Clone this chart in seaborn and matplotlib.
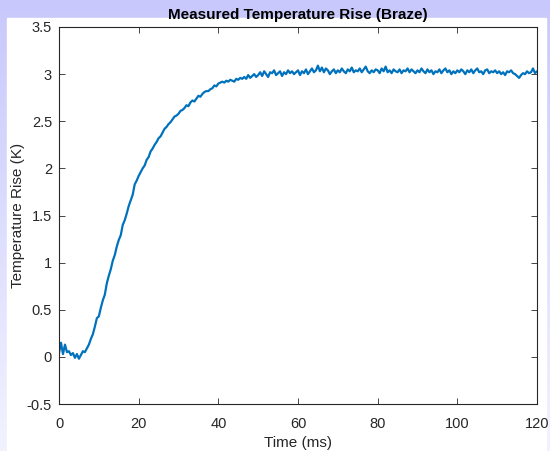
import numpy as np
import pandas as pd
import matplotlib
matplotlib.use("Agg")
import matplotlib.pyplot as plt
import seaborn as sns
from matplotlib.patches import Rectangle

time_ms = [i * 0.5 for i in range(241)]
temp_rise = [
    0.04, 0.15, 0.03, 0.13, 0.05, 0.06, 0.02, 0.04, -0.01, 0.03,
    -0.02, 0.02, 0.06, 0.05, 0.09, 0.13, 0.19, 0.24, 0.32, 0.41,
    0.43, 0.52, 0.60, 0.66, 0.78, 0.86, 0.93, 1.02, 1.08, 1.17,
    1.24, 1.29, 1.40, 1.45, 1.52, 1.60, 1.66, 1.72, 1.83, 1.87,
    1.92, 1.96, 2.00, 2.03, 2.09, 2.12, 2.18, 2.21, 2.25, 2.28,
    2.32, 2.34, 2.38, 2.42, 2.44, 2.47, 2.49, 2.52, 2.55, 2.56,
    2.58, 2.61, 2.62, 2.64, 2.67, 2.66, 2.70, 2.72, 2.71, 2.74,
    2.77, 2.76, 2.79, 2.81, 2.82, 2.82, 2.84, 2.85, 2.88, 2.87,
    2.90, 2.91, 2.92, 2.91, 2.93, 2.92, 2.94, 2.93, 2.92, 2.95,
    2.94, 2.96, 2.95, 2.97, 2.95, 2.99, 2.96, 2.98, 3.00, 2.97,
    2.99, 3.02, 2.98, 3.03, 3.00, 2.97, 3.02, 3.01, 3.04, 2.99,
    3.01, 3.03, 2.98, 3.02, 3.00, 3.04, 3.01, 3.03, 3.00, 3.02,
    3.04, 2.99, 3.03, 3.01, 3.05, 3.00, 3.03, 3.06, 3.02, 3.04,
    3.09, 3.03, 3.07, 3.02, 3.06, 3.04, 3.00, 3.03, 3.05, 3.01,
    3.04, 3.02, 3.06, 3.03, 3.01, 3.05, 3.03, 3.07, 3.02, 3.04,
    3.03, 3.06, 3.02, 3.05, 3.08, 3.03, 3.01, 3.04, 3.02, 3.05,
    3.04, 3.01, 3.06, 3.03, 3.08, 3.02, 3.04, 3.01, 3.05, 3.03,
    3.02, 3.05, 3.01, 3.04, 3.03, 3.06, 3.02, 3.05, 3.03, 3.01,
    3.04, 3.02, 3.06, 3.03, 3.01, 3.05, 3.02, 3.04, 3.00, 3.03,
    3.02, 3.05, 3.01, 3.04, 3.06, 3.02, 3.04, 3.00, 3.03, 3.01,
    3.04, 3.02, 3.05, 3.03, 3.00, 3.04, 3.02, 3.05, 3.01, 3.04,
    3.06, 3.02, 3.03, 3.00, 3.04, 3.05, 3.01, 3.03, 3.02, 3.04,
    3.01, 3.03, 3.00, 3.02, 2.99, 3.03, 3.02, 3.04, 3.01, 3.00,
    2.98, 2.96, 2.99, 3.01, 3.00, 3.03, 3.01, 3.02, 3.06, 3.01,
    3.03,
]
x_ticks = [0, 20, 40, 60, 80, 100, 120]
y_ticks = [-0.5, 0, 0.5, 1, 1.5, 2, 2.5, 3, 3.5]
y_tick_labels = ["-0.5", "0", "0.5", "1", "1.5", "2", "2.5", "3", "3.5"]

df = pd.DataFrame({"Time (ms)": time_ms, "Temperature Rise (K)": temp_rise})

sns.set_theme(style="white")
plt.rcParams["font.family"] = ["Liberation Sans", "DejaVu Sans"]

W, H = 550, 451
fig = plt.figure(figsize=(W / 100, H / 100), dpi=100)

# lavender frame background with a vertical gradient
bg = fig.add_axes([0, 0, 1, 1], zorder=-10)
grad = np.linspace(0, 1, 256).reshape(-1, 1)
cmap = matplotlib.colors.LinearSegmentedColormap.from_list("lav", ["#c8c8fc", "#f2f2ff"])
bg.imshow(grad, aspect="auto", cmap=cmap, extent=[0, 1, 0, 1], origin="upper")
bg.add_patch(Rectangle((7 / W, 0), (546 - 7) / W, 1 - 18 / H, color="white", zorder=2))
bg.set_xlim(0, 1)
bg.set_ylim(0, 1)
bg.axis("off")

ax = fig.add_axes([59 / W, 1 - 404 / H, (537 - 59) / W, (404 - 27) / H])
sns.lineplot(data=df, x="Time (ms)", y="Temperature Rise (K)", ax=ax,
             color="#0072BD", linewidth=1.6)

ax.set_xlim(0, 120)
ax.set_ylim(-0.5, 3.5)
ax.set_xticks(x_ticks)
ax.set_yticks(y_ticks)
ax.set_yticklabels(y_tick_labels)
ax.tick_params(direction="in", length=4, width=0.6, colors="#262626",
               labelsize=10.5, top=True, right=True, bottom=True, left=True)
ax.tick_params(axis="x", pad=9)
ax.tick_params(axis="y", pad=5)
for s in ax.spines.values():
    s.set_color("#262626")
    s.set_linewidth(0.8)
    s.set_visible(True)
ax.set_xlabel("Time (ms)", fontsize=11, color="#262626", labelpad=4)
ax.set_ylabel("Temperature Rise (K)", fontsize=11, color="#262626", labelpad=1)
ax.set_title("Measured Temperature Rise (Braze)", fontsize=11, fontweight="bold",
             color="black", pad=6)
ax.set_facecolor("white")

fig.savefig("out.png", dpi=100)
